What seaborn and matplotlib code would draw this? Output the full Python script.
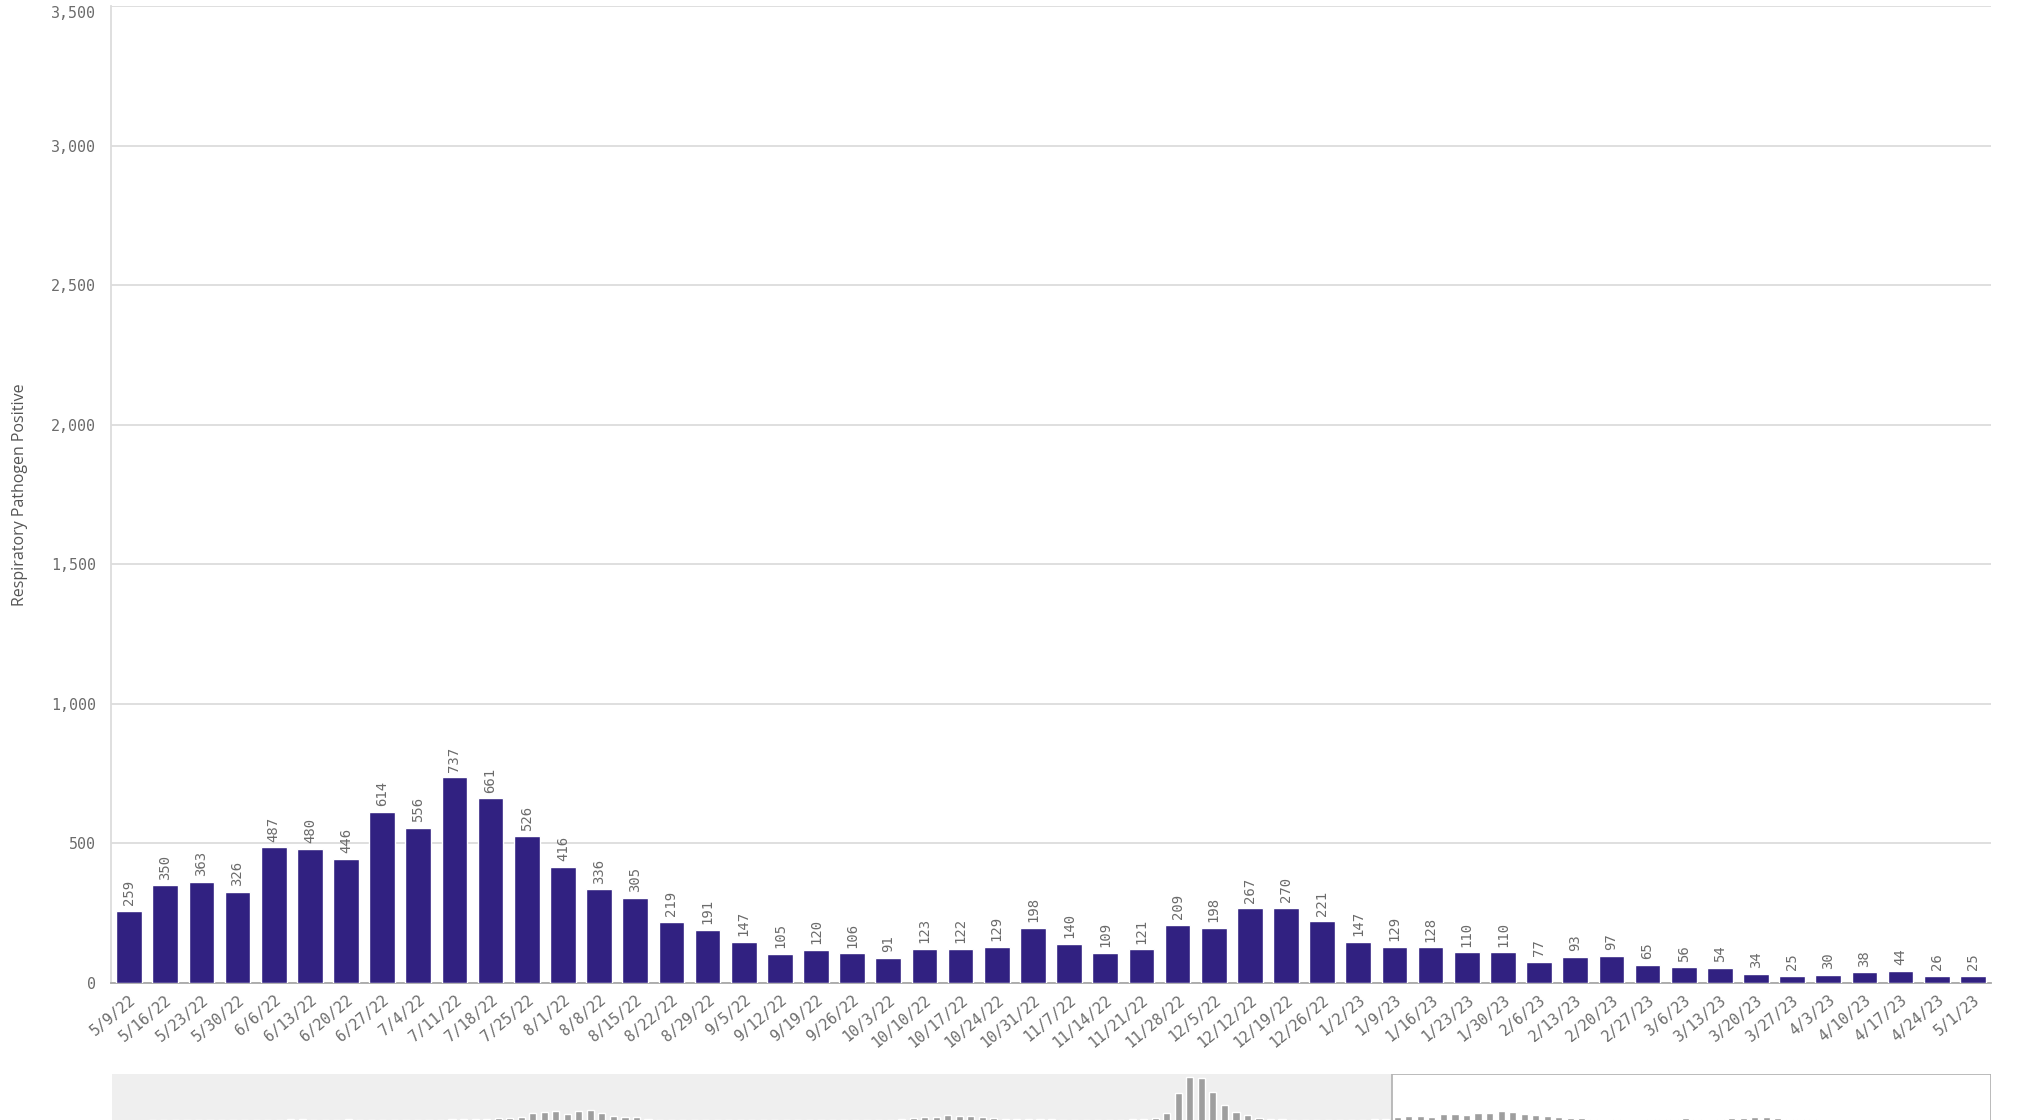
import matplotlib

matplotlib.use("Agg")
import matplotlib.pyplot as plt
import matplotlib.ticker as mticker
import pandas as pd
import seaborn as sns

# weekly positives shown in the main window
weeks = [
    "5/9/22", "5/16/22", "5/23/22", "5/30/22", "6/6/22", "6/13/22", "6/20/22",
    "6/27/22", "7/4/22", "7/11/22", "7/18/22", "7/25/22", "8/1/22", "8/8/22",
    "8/15/22", "8/22/22", "8/29/22", "9/5/22", "9/12/22", "9/19/22", "9/26/22",
    "10/3/22", "10/10/22", "10/17/22", "10/24/22", "10/31/22", "11/7/22",
    "11/14/22", "11/21/22", "11/28/22", "12/5/22", "12/12/22", "12/19/22",
    "12/26/22", "1/2/23", "1/9/23", "1/16/23", "1/23/23", "1/30/23", "2/6/23",
    "2/13/23", "2/20/23", "2/27/23", "3/6/23", "3/13/23", "3/20/23", "3/27/23",
    "4/3/23", "4/10/23", "4/17/23", "4/24/23", "5/1/23",
]
positive = [
    259, 350, 363, 326, 487, 480, 446, 614, 556, 737, 661, 526, 416, 336, 305,
    219, 191, 147, 105, 120, 106, 91, 123, 122, 129, 198, 140, 109, 121, 209,
    198, 267, 270, 221, 147, 129, 128, 110, 110, 77, 93, 97, 65, 56, 54, 34,
    25, 30, 38, 44, 26, 25,
]

# earlier weeks only visible in the scroll navigator (estimated from the thumbnail)
history_positive = [
    3, 10, 25, 40, 45, 40, 38, 40, 45, 50, 55, 60, 65, 80,
    105, 115, 120, 110, 105, 110, 115, 110, 105, 100, 105, 110, 110, 105, 110,
    115, 120, 130, 150, 200,
    246, 319, 614, 688, 737, 540, 737, 835, 565, 393, 295, 270, 147, 98,
    80, 70, 60, 55, 60, 70, 65, 55, 50, 45, 40, 40, 45, 50, 55, 50, 45, 50,
    60, 80,
    123, 197, 295, 295, 418, 393, 369, 270, 197, 147, 147, 123, 123,
    115, 110, 105, 100, 100, 105, 110, 120, 140, 200,
    570, 2030, 3220, 3170, 2105, 1165, 670, 420, 200, 150,
    120, 100, 90, 80, 70, 65, 70, 90, 120, 170,
]

y_ticks = [0, 500, 1000, 1500, 2000, 2500, 3000, 3500]

BAR_COLOR = "#312181"
TEXT_GRAY = "#6b6b6b"
GRID_GRAY = "#dcdcdc"
MONO = "DejaVu Sans Mono"

sns.set_theme(style="white")
plt.rcParams["font.family"] = ["DejaVu Sans"]

W, H = 2017, 1120
fig = plt.figure(figsize=(W / 100, H / 100), dpi=100)

# main chart
ax = fig.add_axes([111 / W, 1 - 983 / H, (1991 - 111) / W, (983 - 6) / H])
df = pd.DataFrame({"week": weeks, "positive": positive})
sns.barplot(
    data=df, x="week", y="positive", order=weeks, color=BAR_COLOR,
    saturation=1, width=0.71, ax=ax, zorder=3,
)
ax.set_xlim(-0.5, len(weeks) - 0.5)
ax.set_ylim(0, 3500)
ax.set_yticks(y_ticks)
ax.yaxis.set_major_formatter(mticker.StrMethodFormatter("{x:,.0f}"))
ax.grid(axis="y", color=GRID_GRAY, linewidth=1.3, zorder=0)
ax.set_axisbelow(True)
for side in ["top", "right"]:
    ax.spines[side].set_visible(False)
ax.spines["left"].set_color(GRID_GRAY)
ax.spines["left"].set_linewidth(1.3)
ax.spines["bottom"].set_color("#a8a8a8")
ax.spines["bottom"].set_linewidth(1.3)

ax.tick_params(axis="y", length=8, width=1.2, color=GRID_GRAY, labelcolor=TEXT_GRAY,
               labelsize=10.8, pad=3)
ax.tick_params(axis="x", length=0, labelcolor=TEXT_GRAY, labelsize=10.8, pad=7)
ax.set_xticks(range(len(weeks)))
ax.set_xticklabels(weeks, rotation=40, ha="right", va="top", rotation_mode="anchor",
                   family=MONO)

fig.canvas.draw()
ylabels = ax.get_yticklabels()
for lbl in ylabels:
    lbl.set_family(MONO)
# top label sits inside the frame, as in the original
ylabels[-1].set_va("top")

ax.set_xlabel("")
ax.set_ylabel("Respiratory Pathogen Positive", family="Open Sans", fontsize=11.5,
              color="#555555", labelpad=16)

ax.bar_label(ax.containers[0], labels=[str(v) for v in positive], rotation=90,
             padding=4, fontsize=10, color=TEXT_GRAY, family=MONO)

# scroll navigator along the bottom edge
all_positive = history_positive + positive
nav_df = pd.DataFrame({"idx": list(range(len(all_positive))), "positive": all_positive})
nav = fig.add_axes([112 / W, -1 / H, (1991 - 112) / W, 47 / H])
nav.set_facecolor("#efefef")
nav.axvspan(len(history_positive) - 0.5, len(all_positive) - 0.5, facecolor="white",
            edgecolor="#b5b5b5", linewidth=1.3, zorder=0.5)
sns.barplot(data=nav_df, x="idx", y="positive", color="#9e9e9e", saturation=1,
            width=0.62, ax=nav, zorder=2)
nav.set_xlim(-0.5, len(all_positive) - 0.5)
nav.set_ylim(0, 3450)
nav.set_xticks([])
nav.set_yticks([])
nav.set_xlabel("")
nav.set_ylabel("")
for side in nav.spines:
    nav.spines[side].set_visible(False)

fig.savefig("out.png", dpi=100)
